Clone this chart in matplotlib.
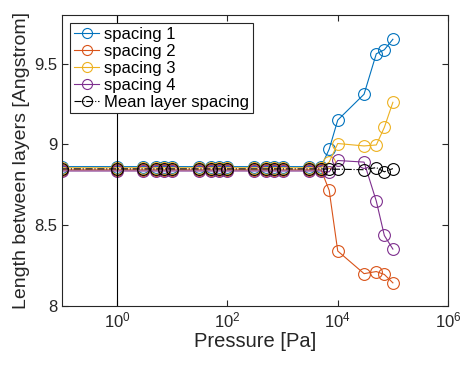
import matplotlib
matplotlib.use("Agg")
import matplotlib.pyplot as plt
from matplotlib.ticker import LogLocator, NullLocator

plt.rcParams['font.family'] = ['Liberation Sans', 'DejaVu Sans']

# Applied pressure [Pa]
pressure = [0.1, 1, 3, 5, 7, 10, 30, 50, 70, 100, 300, 500, 700, 1000,
            3000, 5000, 7000, 1e4, 3e4, 5e4, 7e4, 1e5]

# Interlayer spacings [Angstrom]
spacing1 = [8.862, 8.862, 8.862, 8.862, 8.862, 8.862, 8.862, 8.862, 8.862, 8.862, 8.862,
            8.862, 8.862, 8.862, 8.862, 8.862, 8.97, 9.15, 9.31, 9.56, 9.585, 9.65]
spacing2 = [8.842, 8.842, 8.842, 8.842, 8.842, 8.842, 8.842, 8.842, 8.842, 8.842, 8.842,
            8.842, 8.842, 8.842, 8.842, 8.842, 8.715, 8.34, 8.20, 8.213, 8.195, 8.143]
spacing3 = [8.855, 8.855, 8.855, 8.855, 8.855, 8.855, 8.855, 8.855, 8.855, 8.855, 8.855,
            8.855, 8.855, 8.855, 8.855, 8.855, 8.89, 9.005, 8.99, 8.996, 9.105, 9.26]
spacing4 = [8.835, 8.835, 8.835, 8.835, 8.835, 8.835, 8.835, 8.835, 8.835, 8.835, 8.835,
            8.835, 8.835, 8.835, 8.835, 8.835, 8.83, 8.90, 8.89, 8.649, 8.436, 8.352]
mean_spacing = [8.848, 8.848, 8.848, 8.848, 8.848, 8.848, 8.848, 8.848, 8.848, 8.848, 8.848,
                8.848, 8.848, 8.848, 8.848, 8.848, 8.846, 8.846, 8.843, 8.856, 8.83, 8.85]

series = [
    (spacing1, '#0072BD', '-', 'spacing 1'),
    (spacing2, '#D95319', '-', 'spacing 2'),
    (spacing3, '#EDB120', '-', 'spacing 3'),
    (spacing4, '#7E2F8E', '-', 'spacing 4'),
    (mean_spacing, 'k', '-.', 'Mean layer spacing'),
]

fig = plt.figure(figsize=(4.64, 3.66), dpi=100)
ax = fig.add_axes([0.1336, 0.164, 0.832, 0.795])

for values, color, ls, label in series:
    ax.plot(pressure, values, ls, color=color, lw=0.8, marker='o', ms=8.5,
            mfc='none', mec=color, mew=0.8, label=label)

ax.axvline(1, color='k', lw=0.8)

ax.set_xscale('log')
ax.set_xlim(0.1, 1e6)
ax.set_ylim(8, 9.8)
ax.xaxis.set_major_locator(LogLocator(base=100.0, numticks=10))
ax.xaxis.set_minor_locator(NullLocator())
ax.set_yticks([8, 8.5, 9, 9.5])
ax.set_yticklabels(['8', '8.5', '9', '9.5'])

axis_color = '#262626'
for sp in ax.spines.values():
    sp.set_color(axis_color)
    sp.set_linewidth(0.8)
ax.tick_params(which='both', direction='in', top=True, right=True,
               length=4, width=0.8, color=axis_color, labelcolor=axis_color,
               labelsize=12)

ax.set_xlabel('Pressure [Pa]', fontsize=14.5, color=axis_color, labelpad=1)
ax.set_ylabel('Length between layers [Angstrom]', fontsize=14, color=axis_color, labelpad=3)

leg = ax.legend(loc='upper left', fontsize=12, frameon=True, fancybox=False,
                framealpha=1, edgecolor=axis_color, handlelength=1.55,
                handletextpad=0.3, labelspacing=0.12, borderpad=0.2,
                borderaxespad=0.5, markerscale=0.85)
leg.get_frame().set_linewidth(0.8)
for t in leg.get_texts():
    t.set_color('k')

fig.savefig('out.png', dpi=100)
